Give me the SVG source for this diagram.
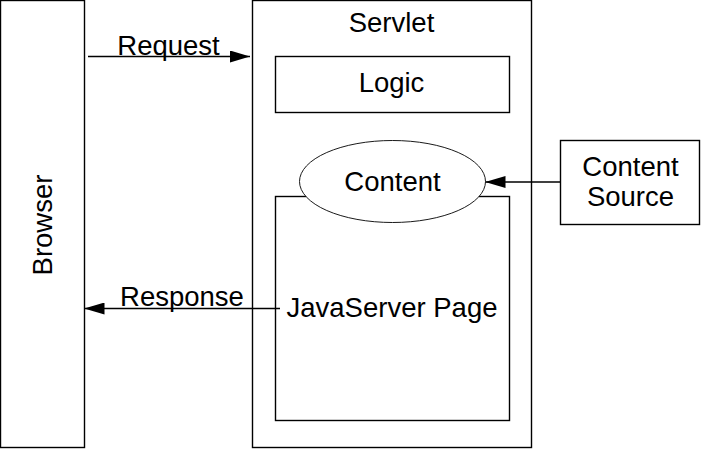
<svg xmlns="http://www.w3.org/2000/svg" width="701" height="449" viewBox="0 0 701 449">
<defs>
<style>
.box{fill:#fff;stroke:#000;stroke-width:1.4}
.t{font-family:"Liberation Sans",Arial,sans-serif;font-size:27.5px;fill:#000;text-anchor:middle}
.c{stroke:#000;stroke-width:1.3;fill:none}
</style>
<marker id="ah" viewBox="0 0 20 12" refX="20" refY="6" markerWidth="20" markerHeight="12" markerUnits="userSpaceOnUse" orient="auto">
<path d="M0,0 L20,6 L0,12 Z" fill="#000"/>
</marker>
</defs>
<rect width="701" height="449" fill="#fff"/>
<g id="browser">
<rect class="box" x="0.5" y="0.5" width="84" height="447"/>
<text class="t" transform="translate(52,225) rotate(-90)">Browser</text>
</g>
<g id="servlet">
<rect class="box" x="252.5" y="0.5" width="279" height="447"/>
<text class="t" x="391.5" y="31.5">Servlet</text>
</g>
<g id="logic">
<rect class="box" x="275.5" y="56.5" width="234" height="56"/>
<text class="t" x="391.5" y="92">Logic</text>
</g>
<g id="jsp">
<rect class="box" x="275.5" y="196.5" width="234" height="224"/>
<text class="t" x="392" y="316.5">JavaServer Page</text>
</g>
<g id="content">
<ellipse cx="392.5" cy="181.5" rx="93" ry="41" fill="#fff" stroke="#000" stroke-width="0.9"/>
<text class="t" x="392.5" y="191">Content</text>
</g>
<g id="content-source">
<rect class="box" x="560.5" y="140.5" width="139" height="84"/>
<text class="t" x="630.5" y="176">Content</text>
<text class="t" x="630.5" y="206">Source</text>
</g>
<g id="connectors">
<line class="c" x1="88" y1="56.5" x2="250" y2="56.5" marker-end="url(#ah)"/>
<line class="c" x1="560" y1="182" x2="485.5" y2="182" marker-end="url(#ah)"/>
<line class="c" x1="280" y1="308.5" x2="84.5" y2="308.5" marker-end="url(#ah)"/>
<text class="t" x="168.5" y="55">Request</text>
<text class="t" x="182" y="306">Response</text>
</g>
</svg>
